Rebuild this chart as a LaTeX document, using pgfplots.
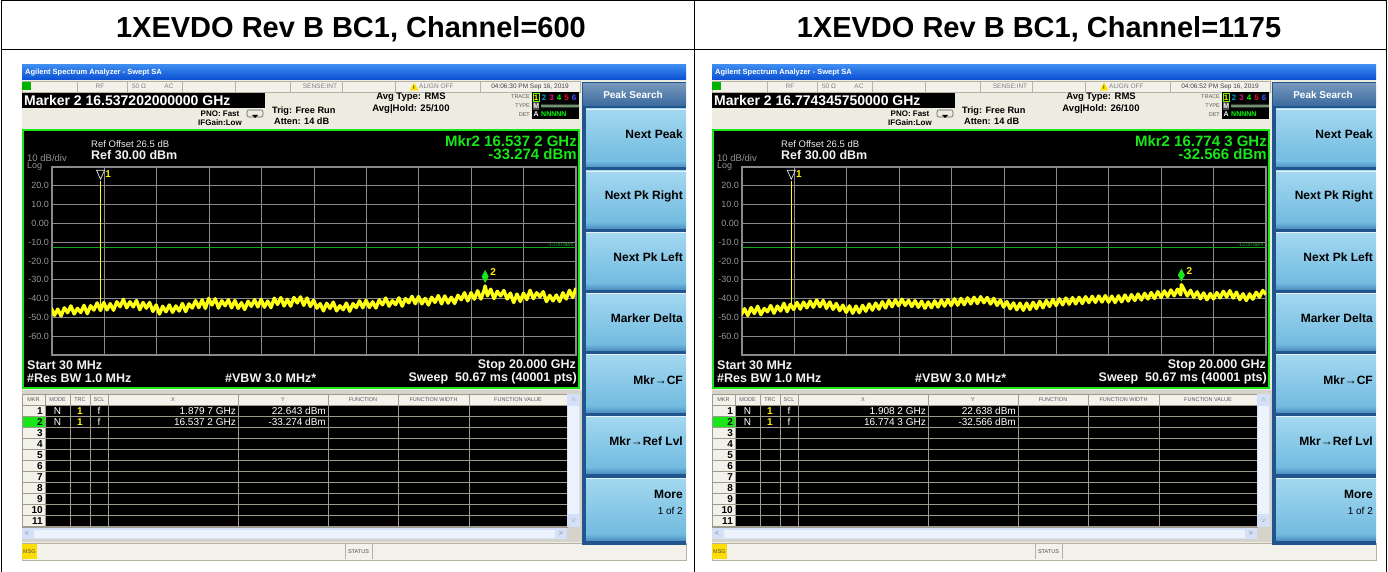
\documentclass[border=0pt]{standalone}
\usepackage{fontspec}
\setmainfont{Liberation Sans}
\usepackage{pgfplots}
\pgfplotsset{compat=1.18}
\usepackage{pgfplotstable}

\newcommand\fs[1]{\fontsize{#1}{#1}\selectfont}

\definecolor{xpblueA}{HTML}{3D8BF0}
\definecolor{xpblueB}{HTML}{0A4FD2}
\definecolor{panel}{HTML}{EEECE1}
\definecolor{cellgray}{HTML}{F2F1EA}
\definecolor{celledge}{HTML}{B5B2A3}
\definecolor{gridgray}{HTML}{8A8A8A}
\definecolor{scrgreen}{HTML}{19E619}
\definecolor{skdark}{HTML}{22548E}
\definecolor{skhead}{HTML}{3A6A9E}
\definecolor{skbtnA}{HTML}{A4D8F0}
\definecolor{skbtnB}{HTML}{72BBE0}
\definecolor{skbtnC}{HTML}{4F93C4}
\definecolor{tblgray}{HTML}{D6D3CA}
\definecolor{tblline}{HTML}{9E9A8C}
\definecolor{sbblue}{HTML}{D3E0F7}
\definecolor{limgreen}{HTML}{1FA51F}
\definecolor{trace}{HTML}{FFFF14}

% averaged trace, channel 600
\pgfplotstableread{
x y
0.000 -45.0
0.125 -48.9
0.250 -45.6
0.375 -49.2
0.500 -44.9
0.625 -47.5
0.750 -43.9
0.875 -48.2
1.000 -45.2
1.125 -47.4
1.250 -43.6
1.375 -48.0
1.500 -43.8
1.625 -46.1
1.750 -42.3
1.875 -46.3
2.000 -42.1
2.125 -46.0
2.250 -42.7
2.375 -46.2
2.500 -41.7
2.625 -44.3
2.750 -40.4
2.875 -44.9
3.000 -41.7
3.125 -44.4
3.250 -41.0
3.375 -45.9
3.500 -42.1
3.625 -45.1
3.750 -42.1
3.875 -46.8
4.000 -43.4
4.125 -48.2
4.250 -44.1
4.375 -47.0
4.500 -43.4
4.625 -47.3
4.750 -43.9
4.875 -46.6
5.000 -42.6
5.125 -46.9
5.250 -42.8
5.375 -45.0
5.500 -41.1
5.625 -44.8
5.750 -40.7
5.875 -45.2
6.000 -39.9
6.125 -43.4
6.250 -40.1
6.375 -45.0
6.500 -41.1
6.625 -43.8
6.750 -40.6
6.875 -44.9
7.000 -41.0
7.125 -45.2
7.250 -42.2
7.375 -45.8
7.500 -41.4
7.625 -44.1
7.750 -40.6
7.875 -44.4
8.000 -40.4
8.125 -44.6
8.250 -41.3
8.375 -44.8
8.500 -39.8
8.625 -43.1
8.750 -39.5
8.875 -43.9
9.000 -40.4
9.125 -44.0
9.250 -39.4
9.375 -42.3
9.500 -39.1
9.625 -43.6
9.750 -39.7
9.875 -44.2
10.000 -40.8
10.125 -45.1
10.250 -42.7
10.375 -46.5
10.500 -42.5
10.625 -45.2
10.750 -41.9
10.875 -46.5
11.000 -43.8
11.125 -45.9
11.250 -42.4
11.375 -46.7
11.500 -42.7
11.625 -44.8
11.750 -41.2
11.875 -44.9
12.000 -40.9
12.125 -44.7
12.250 -41.7
12.375 -45.0
12.500 -40.7
12.625 -43.3
12.750 -39.7
12.875 -44.0
13.000 -41.1
13.125 -43.2
13.250 -39.6
13.375 -44.0
13.500 -40.0
13.625 -42.2
13.750 -38.8
13.875 -42.7
14.000 -38.9
14.125 -42.8
14.250 -39.9
14.375 -43.4
14.500 -39.3
14.625 -42.0
14.750 -38.4
14.875 -42.8
15.000 -38.6
15.125 -42.4
15.250 -39.3
15.375 -42.6
15.500 -38.2
15.625 -40.6
15.750 -36.9
15.875 -41.2
16.000 -36.9
16.125 -40.3
16.250 -35.8
16.375 -40.2
16.500 -35.5
16.537 -33.274
16.625 -38.5
16.750 -35.0
16.875 -40.0
17.000 -36.1
17.125 -38.6
17.250 -35.7
17.375 -40.2
17.500 -37.1
17.625 -42.1
17.750 -37.6
17.875 -41.5
18.000 -37.1
18.125 -40.5
18.250 -35.6
18.375 -40.0
18.500 -36.9
18.625 -39.0
18.750 -36.3
18.875 -41.6
19.000 -38.3
19.125 -41.2
19.250 -38.1
19.375 -41.5
19.500 -36.9
19.625 -40.2
19.750 -35.6
19.875 -39.4
20.000 -34.4
}\traceA

% averaged trace, channel 1175
\pgfplotstableread{
x y
0.000 -48.6
0.125 -45.4
0.250 -49.0
0.375 -44.8
0.500 -47.9
0.625 -44.1
0.750 -48.5
0.875 -45.3
1.000 -47.0
1.125 -43.7
1.250 -47.8
1.375 -44.0
1.500 -46.6
1.625 -42.5
1.750 -46.9
1.875 -43.0
2.000 -45.8
2.125 -42.0
2.250 -45.6
2.375 -41.9
2.500 -44.9
2.625 -41.4
2.750 -44.6
2.875 -40.8
3.000 -44.3
3.125 -41.0
3.250 -45.2
3.375 -41.8
3.500 -45.7
3.625 -42.6
3.750 -46.4
3.875 -43.5
4.000 -47.3
4.125 -43.9
4.250 -47.8
4.375 -44.0
4.500 -47.5
4.625 -43.6
4.750 -46.7
4.875 -42.9
5.000 -46.1
5.125 -42.4
5.250 -45.6
5.375 -41.7
5.500 -45.0
5.625 -41.0
5.750 -44.3
5.875 -40.6
6.000 -43.8
6.125 -40.3
6.250 -43.6
6.375 -40.9
6.500 -44.2
6.625 -41.1
6.750 -44.6
6.875 -41.4
7.000 -45.1
7.125 -41.8
7.250 -44.8
7.375 -41.2
7.500 -44.5
7.625 -40.8
7.750 -44.0
7.875 -40.5
8.000 -43.7
8.125 -40.1
8.250 -43.5
8.375 -39.9
8.500 -43.2
8.625 -39.6
8.750 -42.8
8.875 -39.3
9.000 -42.6
9.125 -39.0
9.250 -42.2
9.375 -39.4
9.500 -42.9
9.625 -39.9
9.750 -43.6
9.875 -40.8
10.000 -44.5
10.125 -41.6
10.250 -45.4
10.375 -42.3
10.500 -45.9
10.625 -42.5
10.750 -46.2
10.875 -42.4
11.000 -45.8
11.125 -42.0
11.250 -45.3
11.375 -41.5
11.500 -44.9
11.625 -41.0
11.750 -44.2
11.875 -40.4
12.000 -43.7
12.125 -40.1
12.250 -43.3
12.375 -39.7
12.500 -43.0
12.625 -39.5
12.750 -42.8
12.875 -39.3
13.000 -42.6
13.125 -39.0
13.250 -42.1
13.375 -38.8
13.500 -42.0
13.625 -38.6
13.750 -41.8
13.875 -38.4
14.000 -41.9
14.125 -38.7
14.250 -42.1
14.375 -38.5
14.500 -41.7
14.625 -38.1
14.750 -41.3
14.875 -37.9
15.000 -41.0
15.125 -37.6
15.250 -40.7
15.375 -37.2
15.500 -40.2
15.625 -36.8
15.750 -39.9
15.875 -36.3
16.000 -39.4
16.125 -35.9
16.250 -38.9
16.375 -35.4
16.500 -38.5
16.625 -35.0
16.750 -38.0
16.774 -32.566
16.875 -35.1
17.000 -38.6
17.125 -35.6
17.250 -39.3
17.375 -36.4
17.500 -40.1
17.625 -37.0
17.750 -40.6
17.875 -37.3
18.000 -40.2
18.125 -36.8
18.250 -39.6
18.375 -36.1
18.500 -39.1
18.625 -35.8
18.750 -39.7
18.875 -36.6
19.000 -40.5
19.125 -37.4
19.250 -41.0
19.375 -37.5
19.500 -40.3
19.625 -36.6
19.750 -39.2
19.875 -35.7
20.000 -37.9
}\traceB

% analyzer window chrome; #1 horizontal offset (pixel grid, y downwards)
\newcommand\screen[9]{%
\begin{scope}[shift={(#1,0)}]
 \fill[panel] (22,65) rectangle (686,561);
 % title bar
 \shade[top color=xpblueA,bottom color=xpblueB] (22,65) rectangle (686,80);
 \node[anchor=west,text=white,font=\fs{7.5}\bfseries,inner sep=0] at (25,72.5) {Agilent Spectrum Analyzer - Swept SA};
 % status row
 \fill[cellgray] (22,81) rectangle (580,92);
 \foreach \xx in {77,127,182,235,290,342,395,480} \draw[celledge] (\xx,81) -- (\xx,92);
 \draw[celledge] (22,81) rectangle (580,92);
 \fill[green!70!black] (22,82) rectangle (31,90);
 \begin{scope}[every node/.style={font=\fs{6.5},text=gray,inner sep=0}]
  \node at (100,86.5) {RF};
  \node at (139,86.5) {50 Ω};
  \node at (169,86.5) {AC};
  \node at (320,86.5) {SENSE:INT};
  \node[anchor=west] at (419,86.5) {ALIGN OFF};
  \node[text=black!75] at (530,86.5) {#3};
 \end{scope}
 \fill[yellow!85!orange] (409.5,90.5) -- (418.5,90.5) -- (414,82.5) -- cycle;
 \node[font=\fs{5}\bfseries,inner sep=0] at (414,88) {!};
 % marker readout
 \fill[black] (22,93) rectangle (265,108);
 \node[anchor=west,text=white,font=\fs{14}\bfseries,inner sep=0] at (24,100.5) {Marker 2 #2 GHz};
 \begin{scope}[every node/.style={font=\fs{8}\bfseries,inner sep=0}]
  \node at (220,113.5) {PNO: Fast};
  \node at (220,122.5) {IFGain:Low};
 \end{scope}
 \draw[gray!70!black,line width=0.6pt,rounded corners=2pt] (247,110) rectangle (263,117);
 \fill[black] (252,115) -- (258,115) -- (255,118) -- cycle;
 \begin{scope}[every node/.style={font=\fs{9.2}\bfseries,inner sep=0,anchor=west}]
  \node at (272,111) {Trig: Free Run};
  \node at (274,121.5) {Atten: 14 dB};
 \end{scope}
 \begin{scope}[every node/.style={font=\fs{9.5}\bfseries,inner sep=0}]
  \node at (411,97.5) {Avg Type: RMS};
  \node at (411,109) {Avg|Hold: #4};
 \end{scope}
 % trace indicator block
 \begin{scope}[every node/.style={font=\fs{5.5},text=gray!70!black,inner sep=0,anchor=east}]
  \node at (530,96.5) {TRACE};
  \node at (530,105.5) {TYPE};
  \node at (530,114.5) {DET};
 \end{scope}
 \fill[black] (532,92.5) rectangle (579,119);
 \fill[gray!60!black] (533,102) rectangle (539,110);
 \draw[green!60!yellow,line width=0.6pt] (533,93.2) rectangle (539.5,101.2);
 \foreach \n/\c/\xx in {1/yellow/536.2,2/cyan!80!blue/544,3/magenta/551.5,4/green/559,5/red!80!magenta/566.5,6/blue!70!white/574}
  \node[text=\c,font=\fs{8}\bfseries,inner sep=0] at (\xx,97.3) {\n};
 \node[text=white,font=\fs{7}\bfseries,inner sep=0] at (536.2,106) {M};
 \draw[white!80!green,line width=0.4pt] (541,107.5) \foreach \k in {0,...,18} {-- ++(1,-3) -- ++(1,3)};
 \node[text=white,font=\fs{7}\bfseries,inner sep=0] at (536.2,114.5) {A};
 \node[text=green,font=\fs{7}\bfseries,inner sep=0,anchor=west] at (541,114.5) {NNNNN};
 % display frame
 \fill[black] (23,130) rectangle (579,388);
 \node[anchor=west,text=white!85!gray,font=\fs{9.5},inner sep=0] at (91,144) {Ref Offset 26.5 dB};
 \node[anchor=west,text=white!90!gray,font=\fs{12.5}\bfseries,inner sep=0] at (91,155.5) {Ref 30.00 dBm};
 \node[anchor=west,text=gridgray!90!white,font=\fs{9.5},inner sep=0] at (27,158) {10 dB/div};
 \node[anchor=west,text=gridgray!90!white,font=\fs{9},inner sep=0] at (27,166) {Log};
 \node[anchor=east,text=scrgreen,font=\fs{15}\bfseries,inner sep=0] at (577,141) {Mkr2 #5 GHz};
 \node[anchor=east,text=scrgreen,font=\fs{15}\bfseries,inner sep=0] at (577,154.5) {#6 dBm};
 \begin{scope}[every node/.style={font=\fs{12.5}\bfseries,text=white!90!gray,inner sep=0}]
  \node[anchor=west] at (27,365) {Start 30 MHz};
  \node[anchor=west] at (27,378) {\#Res BW 1.0 MHz};
  \node[anchor=west] at (225,378) {\#VBW 3.0 MHz*};
  \node[anchor=east] at (576,365) {Stop 20.000 GHz};
  \node[anchor=east] at (577,378) {Sweep\ \ 50.67 ms (40001 pts)};
 \end{scope}
 \draw[scrgreen,line width=2.2pt] (23,130) rectangle (579,388);
 % marker table
 \fill[tblgray] (22,389.5) rectangle (582,542);
 \fill[cellgray] (22,394) rectangle (567,405);
 \fill[black] (45,405) rectangle (567,527);
 \fill[cellgray] (22,405) rectangle (45,527);
 \fill[scrgreen] (22,416) rectangle (45,427);
 \foreach \k in {0,...,11} \draw[tblline,line width=0.7pt] (22,{405+11*\k}) -- (567,{405+11*\k});
 \foreach \xx in {45,70,90,108,238,328,398,469} \draw[tblline,line width=0.7pt] (\xx,394) -- (\xx,527);
 \draw[tblline] (22,394) rectangle (567,527);
 \begin{scope}[every node/.style={font=\fs{5.5},text=gray!70!black,inner sep=0}]
  \node at (33.5,399.5) {MKR};
  \node at (57.5,399.5) {MODE};
  \node at (80,399.5) {TRC};
  \node at (99,399.5) {SCL};
  \node at (173,399.5) {X};
  \node at (283,399.5) {Y};
  \node at (363,399.5) {FUNCTION};
  \node at (433.5,399.5) {FUNCTION WIDTH};
  \node at (518,399.5) {FUNCTION VALUE};
 \end{scope}
 \foreach \k in {1,...,11}
  \node[anchor=east,font=\fs{10}\bfseries,inner sep=0] at (43,{399.8+11*\k}) {\k};
 \begin{scope}[every node/.style={font=\fs{10},text=white,inner sep=0}]
  \node at (57.5,410.8) {N};
  \node at (57.5,421.8) {N};
  \node at (99,410.8) {f};
  \node at (99,421.8) {f};
  \node[anchor=east] at (236,410.8) {#7 GHz};
  \node[anchor=east] at (236,421.8) {#9 GHz};
  \node[anchor=east] at (326,410.8) {#8 dBm};
  \node[anchor=east] at (326,421.8) {#6 dBm};
 \end{scope}
 \node[text=yellow,font=\fs{10}\bfseries,inner sep=0] at (80,410.8) {1};
 \node[text=yellow,font=\fs{10}\bfseries,inner sep=0] at (80,421.8) {1};
 \fill[sbblue] (567,394) rectangle (580,527);
 \fill[white!60!sbblue] (568,406) rectangle (579,514);
 \fill[sbblue] (22,528) rectangle (567,539);
 \fill[white!60!sbblue] (34,529.5) rectangle (555,537.5);
 \node[font=\fs{6},text=gray,inner sep=0] at (573.5,399.5) {$\wedge$};
 \node[font=\fs{6},text=gray,inner sep=0] at (573.5,521) {$\vee$};
 \node[font=\fs{7},text=gray,inner sep=0] at (27,533.5) {<};
 \node[font=\fs{7},text=gray,inner sep=0] at (561,533.5) {>};
 % message bar
 \fill[cellgray] (22,543) rectangle (686,560);
 \draw[celledge] (22,543) rectangle (686,560);
 \fill[yellow!80!orange] (22,544) rectangle (37,559);
 \node[font=\fs{5.5},text=gray!60!black,inner sep=0] at (29.5,551.5) {MSG};
 \draw[celledge] (345,544) -- (345,559);
 \draw[celledge] (372,544) -- (372,559);
 \node[font=\fs{5.5},text=gray!60!black,inner sep=0] at (358.5,551.5) {STATUS};
 % softkeys
 \fill[skdark] (582,82) rectangle (686,545);
 \shade[top color=skhead!70!white,bottom color=skhead] (583,84) rectangle (686,106);
 \node[text=white,font=\fs{10}\bfseries,inner sep=0] at (633,95) {Peak Search};
 \foreach \ya/\yb in {109/167,171/228,232/289,293/350,354/412,416/473,478/540} {
  \shade[top color=skbtnA,bottom color=skbtnB] (586,\ya) rectangle (686,\yb-6);
  \shade[top color=skbtnB,bottom color=skbtnC] (586,\yb-6) rectangle (686,\yb);
  \draw[white!70!skbtnA,line width=1.2pt] (586,\ya+0.6) -- (686,\ya+0.6);}
 \begin{scope}[every node/.style={font=\fs{12}\bfseries,inner sep=0,anchor=east}]
  \node at (683,134) {Next Peak};
  \node at (683,196) {Next Pk Right};
  \node at (683,257) {Next Pk Left};
  \node at (683,318) {Marker Delta};
  \node at (683,380) {Mkr→CF};
  \node at (683,441) {Mkr→Ref Lvl};
  \node at (683,494) {More};
  \node[font=\fs{10}] at (683,511) {1 of 2};
 \end{scope}
\end{scope}}

\pgfplotsset{sa/.style={
  anchor=north west, width=524pt, height=188pt, scale only axis,
  xmin=0.03, xmax=20, ymin=-70, ymax=30,
  xtick={0.03,2.027,4.024,6.021,8.018,10.015,12.012,14.009,16.006,18.003,20},
  xticklabels={},
  ytick={-70,-60,...,30},
  yticklabels={,-60.0,-50.0,-40.0,-30.0,-20.0,-10.0,0.00,10.0,20.0,},
  yticklabel style={font=\fs{9},text=gridgray!90!white,inner sep=0,xshift=-3pt},
  grid=major, major grid style={gridgray,line width=0.9pt},
  axis line style={gridgray,line width=1.2pt},
  major tick length=0pt, tick style={draw=none},
  clip=true}}

\begin{document}
\begin{tikzpicture}[x=1pt,y=1pt]
\begin{scope}[y=-1pt]
\fill[white] (0,0) rectangle (1388,572);
\path[use as bounding box] (0,0) rectangle (1388,572);
% outer table
\draw[black,line width=1pt] (1.5,572) -- (1.5,1) -- (1386.5,1) -- (1386.5,572);
\draw[black,line width=1pt] (1.5,49.5) -- (1386.5,49.5);
\draw[black,line width=1pt] (694,1) -- (694,572);
\node[font=\fs{29}\bfseries,inner sep=0] at (351,29) {1XEVDO Rev B BC1, Channel=600};
\node[font=\fs{29}\bfseries,inner sep=0] at (1039,29) {1XEVDO Rev B BC1, Channel=1175};

\screen{0}{16.537202000000}{04:06:30 PM Sep 16, 2019}{25/100}{16.537 2}{-33.274}{1.879 7}{22.643}{16.537 2}
\screen{690}{16.774345750000}{04:06:52 PM Sep 16, 2019}{26/100}{16.774 3}{-32.566}{1.908 2}{22.638}{16.774 3}
\end{scope}

\begin{axis}[sa, at={(52pt,-167pt)}]
 \addplot[limgreen,line width=0.8pt] coordinates {(0.03,-13) (20,-13)};
 \addplot[trace,line width=3.4pt,line join=round] table {\traceA};
 \addplot[trace,line width=0.8pt] coordinates {(1.8797,-44) (1.8797,22.643)};
 \node[anchor=south east,text=limgreen,font=\fs{5},inner sep=1pt] at (axis cs:19.95,-13) {-13.00 dBm};
 \draw[white!80!gray,line width=0.7pt] ([yshift=1.5pt]axis cs:1.8797,22.643) -- ++(-4pt,9pt) -- ++(8pt,0pt) -- cycle;
 \node[text=yellow,font=\fs{10}\bfseries,inner sep=0] at ([xshift=7.5pt,yshift=6.5pt]axis cs:1.8797,22.643) {1};
 \fill[scrgreen] ([yshift=3pt]axis cs:16.537,-33.274) -- ++(3.5pt,6.5pt) -- ++(-3.5pt,6.5pt) -- ++(-3.5pt,-6.5pt) -- cycle;
 \node[text=yellow,font=\fs{10}\bfseries,inner sep=0] at ([xshift=8pt,yshift=14pt]axis cs:16.537,-33.274) {2};
\end{axis}

\begin{axis}[sa, at={(742pt,-167pt)}]
 \addplot[limgreen,line width=0.8pt] coordinates {(0.03,-13) (20,-13)};
 \addplot[trace,line width=3.4pt,line join=round] table {\traceB};
 \addplot[trace,line width=0.8pt] coordinates {(1.9082,-44) (1.9082,22.638)};
 \node[anchor=south east,text=limgreen,font=\fs{5},inner sep=1pt] at (axis cs:19.95,-13) {-13.00 dBm};
 \draw[white!80!gray,line width=0.7pt] ([yshift=1.5pt]axis cs:1.9082,22.638) -- ++(-4pt,9pt) -- ++(8pt,0pt) -- cycle;
 \node[text=yellow,font=\fs{10}\bfseries,inner sep=0] at ([xshift=7.5pt,yshift=6.5pt]axis cs:1.9082,22.638) {1};
 \fill[scrgreen] ([yshift=3pt]axis cs:16.774,-32.566) -- ++(3.5pt,6.5pt) -- ++(-3.5pt,6.5pt) -- ++(-3.5pt,-6.5pt) -- cycle;
 \node[text=yellow,font=\fs{10}\bfseries,inner sep=0] at ([xshift=8pt,yshift=14pt]axis cs:16.774,-32.566) {2};
\end{axis}
\end{tikzpicture}
\end{document}
